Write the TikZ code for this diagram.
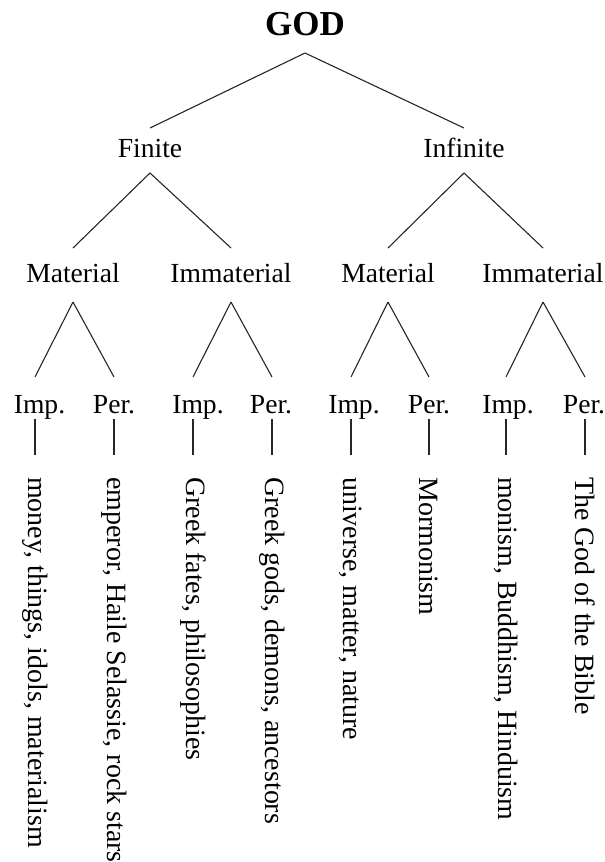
\documentclass[tikz,border=0pt]{standalone}
\usepackage{fontspec}
\setmainfont{Liberation Serif}
\usetikzlibrary{calc}
\begin{document}
\begin{tikzpicture}[x=1pt,y=-1pt,
  lbl/.style={inner sep=0pt,anchor=base,font=\fontsize{27.6}{33}\selectfont},
  top/.style={inner sep=0pt,anchor=base,font=\fontsize{35}{40}\selectfont\bfseries},
  leaf/.style={inner sep=0pt,anchor=west,rotate=-90,font=\fontsize{27.95}{33}\selectfont},
  edge/.style={line width=1.1pt,draw=black!85}]
\useasboundingbox (0,0) rectangle (605,862);
\node[top] (god) at (305,35) {GOD};
\node[lbl] (fin) at (150,157) {Finite};
\node[lbl] (inf) at (464,157) {Infinite};
\node[lbl] (m1) at (73,282) {Material};
\node[lbl] (i1) at (231,282) {Immaterial};
\node[lbl] (m2) at (388,282) {Material};
\node[lbl] (i2) at (543,282) {Immaterial};
\node[lbl] (a1) at (39.5,413) {Imp.};
\node[lbl] (b1) at (114,413) {Per.};
\node[lbl] (a2) at (198,413) {Imp.};
\node[lbl] (b2) at (271,413) {Per.};
\node[lbl] (a3) at (354,413) {Imp.};
\node[lbl] (b3) at (429,413) {Per.};
\node[lbl] (a4) at (508,413) {Imp.};
\node[lbl] (b4) at (584,413) {Per.};
\node[leaf] (ta1) at (35,477) {money, things, idols, materialism};
\node[leaf] (tb1) at (114,477) {emperor, Haile Selassie, rock stars};
\node[leaf] (ta2) at (193,477) {Greek fates, philosophies};
\node[leaf] (tb2) at (272,477) {Greek gods, demons, ancestors};
\node[leaf] (ta3) at (351,477) {universe, matter, nature};
\node[leaf] (tb3) at (429,477) {Mormonism};
\node[leaf] (ta4) at (506,477) {monism, Buddhism, Hinduism};
\node[leaf] (tb4) at (585,477) {The God of the Bible};
% top levels
\foreach \c in {fin,inf}
  \draw[edge] ([yshift=-18pt]god.base) -- ([yshift=29pt]\c.base);
\foreach \p/\l/\r in {fin/m1/i1,inf/m2/i2}{
  \draw[edge] ([yshift=-16pt]\p.base) -- ([yshift=34pt]\l.base);
  \draw[edge] ([yshift=-16pt]\p.base) -- ([yshift=34pt]\r.base);
}
\foreach \p/\n in {m1/1,i1/2,m2/3,i2/4}{
  \draw[edge] ([yshift=-20pt]\p.base) -- ($(a\n.base -| ta\n.west)+(0,-36)$);
  \draw[edge] ([yshift=-20pt]\p.base) -- ($(b\n.base -| tb\n.west)+(0,-36)$);
}
\foreach \n in {1,2,3,4}{
  \draw[edge] ($(a\n.base -| ta\n.west)+(0,6)$) -- ($(ta\n.west)+(0,-22)$);
  \draw[edge] ($(b\n.base -| tb\n.west)+(0,6)$) -- ($(tb\n.west)+(0,-22)$);
}
\end{tikzpicture}
\end{document}
